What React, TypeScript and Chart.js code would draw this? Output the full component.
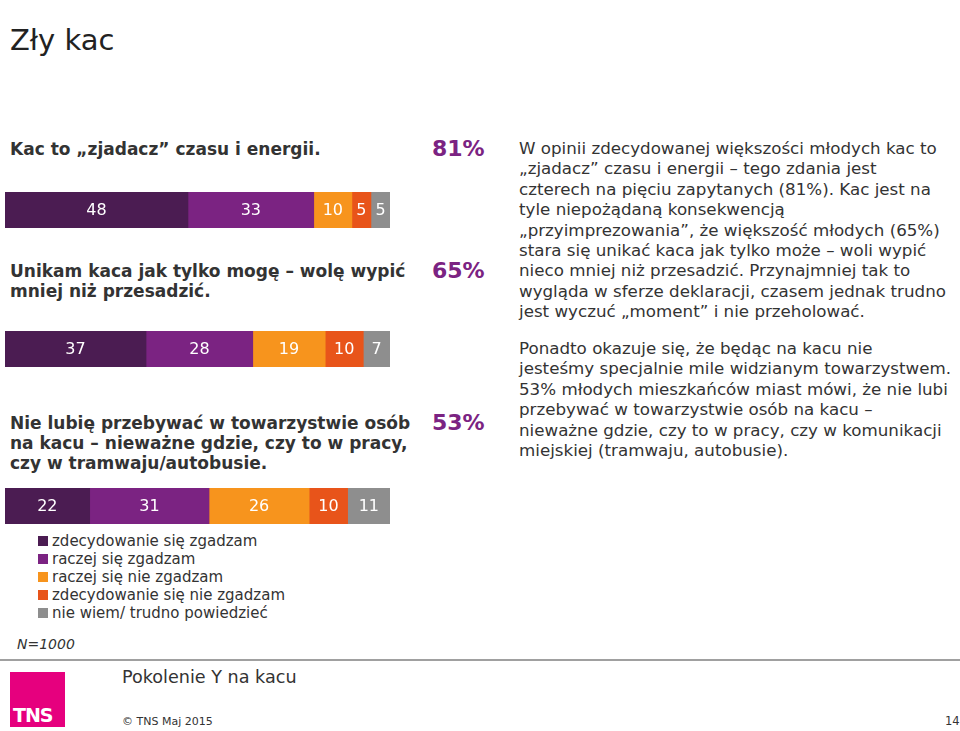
import React, { useEffect, useRef } from "react";
import { Chart, registerables } from "chart.js";

Chart.register(...registerables);

const seriesNames = [
  "zdecydowanie się zgadzam",
  "raczej się zgadzam",
  "raczej się nie zgadzam",
  "zdecydowanie się nie zgadzam",
  "nie wiem/ trudno powiedzieć",
];
const seriesColors = ["#4b1c52", "#7b2382", "#f7941d", "#e8541a", "#8e8e8e"];

const statements = [
  "Kac to „zjadacz” czasu i energii.",
  "Unikam kaca jak tylko mogę – wolę wypić\nmniej niż przesadzić.",
  "Nie lubię przebywać w towarzystwie osób\nna kacu – nieważne gdzie, czy to w pracy,\nczy w tramwaju/autobusie.",
];
const row1Values = [48, 33, 10, 5, 5];
const row2Values = [37, 28, 19, 10, 7];
const row3Values = [22, 31, 26, 10, 11];
const agreeShares = ["81%", "65%", "53%"];

const FONT = "'DejaVu Sans', Verdana, sans-serif";

const valueLabels = {
  id: "valueLabels",
  afterDatasetsDraw(chart: any) {
    const ctx = chart.ctx;
    ctx.save();
    ctx.fillStyle = "#ffffff";
    ctx.font = `16px ${FONT}`;
    ctx.textAlign = "center";
    ctx.textBaseline = "middle";
    chart.data.datasets.forEach((ds: any, i: number) => {
      const meta = chart.getDatasetMeta(i);
      meta.data.forEach((bar: any, j: number) => {
        const v = ds.data[j];
        const cx = (bar.x + bar.base) / 2;
        ctx.fillText(String(v), cx, bar.y + 1);
      });
    });
    ctx.restore();
  },
};

function StackBar({ values, top }: { values: number[]; top: number }) {
  const ref = useRef<HTMLCanvasElement>(null);
  useEffect(() => {
    const total = values.reduce((a, b) => a + b, 0);
    const chart = new Chart(ref.current!, {
      type: "bar",
      data: {
        labels: [""],
        datasets: values.map((v, i) => ({
          label: seriesNames[i],
          data: [v],
          backgroundColor: seriesColors[i],
          borderWidth: 0,
          barPercentage: 1,
          categoryPercentage: 1,
        })),
      },
      options: {
        indexAxis: "y",
        animation: false,
        responsive: false,
        devicePixelRatio: 1,
        layout: { padding: 0 },
        plugins: { legend: { display: false }, tooltip: { enabled: false } },
        scales: {
          x: { stacked: true, min: 0, max: total, display: false },
          y: { stacked: true, display: false },
        },
      },
      plugins: [valueLabels],
    });
    return () => chart.destroy();
  }, [values]);
  return (
    <canvas
      ref={ref}
      width={385}
      height={36}
      style={{ position: "absolute", left: 5, top, width: 385, height: 36 }}
    />
  );
}

const abs = (l: number, t: number, extra: any = {}) => ({
  position: "absolute" as const,
  left: l,
  top: t,
  ...extra,
});

export default function App() {
  useEffect(() => {
    document.body.style.margin = "0";
  }, []);
  const qStyle = {
    fontFamily: FONT,
    fontWeight: "bold" as const,
    fontSize: 17,
    color: "#333",
    lineHeight: "20px",
    whiteSpace: "pre" as const,
  };
  const pctStyle = {
    fontFamily: FONT,
    fontWeight: "bold" as const,
    fontSize: 22,
    color: "#7b2382",
    lineHeight: "24px",
  };
  const bodyStyle = {
    fontFamily: FONT,
    fontSize: 16.7,
    color: "#333",
    lineHeight: "20.4px",
    whiteSpace: "pre" as const,
  };
  return (
    <div style={{ position: "relative", width: 960, height: 731, background: "#fff", overflow: "hidden" }}>
      <div style={abs(10, 20, { fontFamily: FONT, fontSize: 29, color: "#222", lineHeight: "40px" })}>Zły kac</div>

      <div style={abs(10, 139, qStyle)}>{statements[0]}</div>
      <div style={abs(10, 261, qStyle)}>{statements[1]}</div>
      <div style={abs(10, 413, qStyle)}>{statements[2]}</div>

      <div style={abs(432, 137, pctStyle)}>{agreeShares[0]}</div>
      <div style={abs(432, 259, pctStyle)}>{agreeShares[1]}</div>
      <div style={abs(432, 411, pctStyle)}>{agreeShares[2]}</div>

      <div style={abs(519, 138, bodyStyle)}>
        {"W opinii zdecydowanej większości młodych kac to\n„zjadacz” czasu i energii – tego zdania jest\nczterech na pięciu zapytanych (81%). Kac jest na\ntyle niepożądaną konsekwencją\n„przyimprezowania”, że większość młodych (65%)\nstara się unikać kaca jak tylko może – woli wypić\nnieco mniej niż przesadzić. Przynajmniej tak to\nwygląda w sferze deklaracji, czasem jednak trudno\njest wyczuć „moment” i nie przeholować."}
      </div>
      <div style={abs(519, 338, bodyStyle)}>
        {"Ponadto okazuje się, że będąc na kacu nie\njesteśmy specjalnie mile widzianym towarzystwem.\n53% młodych mieszkańców miast mówi, że nie lubi\nprzebywać w towarzystwie osób na kacu –\nnieważne gdzie, czy to w pracy, czy w komunikacji\nmiejskiej (tramwaju, autobusie)."}
      </div>

      <StackBar values={row1Values} top={192} />
      <StackBar values={row2Values} top={331} />
      <StackBar values={row3Values} top={488} />

      <div style={abs(38, 532, { fontFamily: FONT, fontSize: 15, color: "#333" })}>
        {seriesNames.map((n, i) => (
          <div key={n} style={{ display: "flex", alignItems: "center", height: 18, lineHeight: "18px" }}>
            <span style={{ display: "inline-block", width: 10, height: 10, background: seriesColors[i], marginRight: 4 }} />
            <span>{n}</span>
          </div>
        ))}
      </div>

      <div style={abs(17, 636, { fontFamily: FONT, fontSize: 14, fontStyle: "italic", color: "#333" })}>N=1000</div>
      <div style={abs(0, 659, { width: 960, height: 2, background: "#a0a0a0" })} />
      <div style={abs(10, 672, { width: 55, height: 55, background: "#e6007e" })}>
        <div style={abs(3, 32, { fontFamily: FONT, fontWeight: "bold", fontSize: 19, color: "#fff", letterSpacing: -1 })}>TNS</div>
      </div>
      <div style={abs(122, 667, { fontFamily: FONT, fontSize: 17.6, color: "#333" })}>Pokolenie Y na kacu</div>
      <div style={abs(122, 715, { fontFamily: FONT, fontSize: 11, color: "#333" })}>© TNS Maj 2015</div>
      <div style={abs(945, 714, { fontFamily: FONT, fontSize: 11.5, color: "#333" })}>14</div>
    </div>
  );
}
